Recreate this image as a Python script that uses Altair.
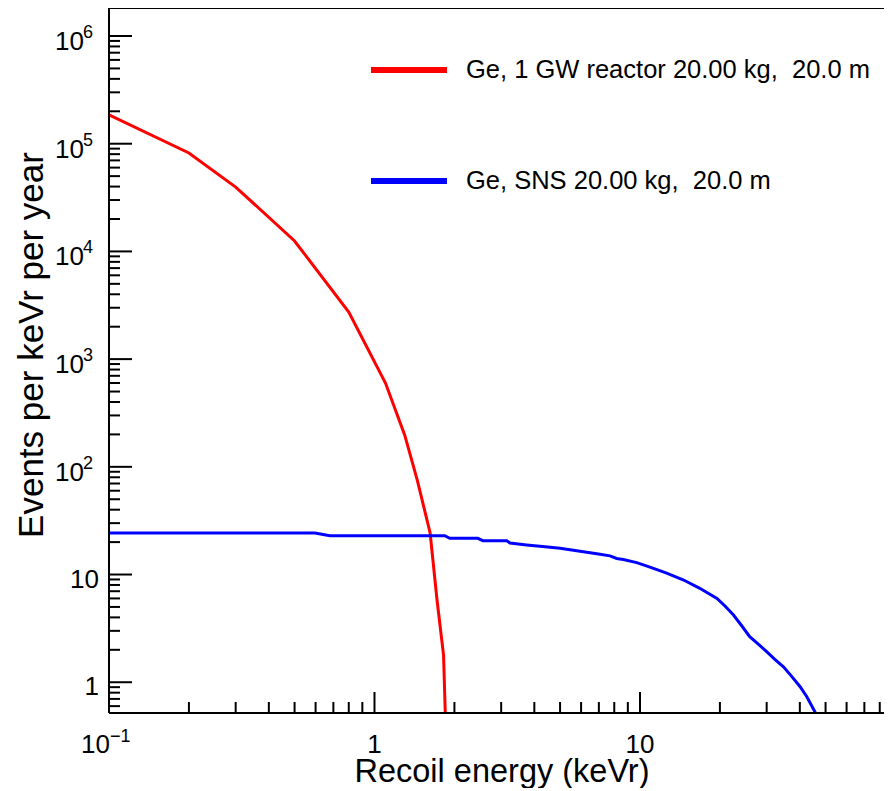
import altair as alt
import pandas as pd

# ---- data ----
red_x = [0.1, 0.2, 0.3, 0.5, 0.8, 1.1, 1.3, 1.45, 1.62, 1.72, 1.82, 1.86]
red_y = [1.85e5, 8.2e4, 3.96e4, 1.25e4, 2.74e3, 600, 197, 75, 24.3, 5.8, 1.79, 0.3]

blue_x = [0.1, 0.597, 0.679, 1.84, 1.92, 2.45, 2.56, 3.15, 3.24, 3.74, 4.39, 5.0,
          5.53, 6.3, 6.97, 7.71, 8.17, 8.65, 9.72, 10.9, 12.6, 14.6, 16.8, 17.8,
          19.5, 20.9, 22.5, 24.2, 25.9, 27.9, 30.0, 32.2, 34.7, 37.2, 40.1, 42.5,
          45.6, 46.8]
blue_y = [24.3, 24.3, 22.9, 22.9, 21.7, 21.7, 20.6, 20.6, 19.6, 18.8, 18.1, 17.5,
          16.9, 16.1, 15.5, 14.9, 14.1, 13.8, 12.9, 11.7, 10.3, 8.89, 7.45, 6.84,
          6.01, 5.10, 4.21, 3.33, 2.65, 2.26, 1.92, 1.63, 1.39, 1.14, 0.908, 0.734,
          0.532, 0.45]

series_names = ["Ge, 1 GW reactor 20.00 kg,\u00a0 20.0 m", "Ge, SNS 20.00 kg,\u00a0 20.0 m"]
series_colors = ["#ff0000", "#0000ff"]

x_major_ticks = [0.1, 1, 10]
x_minor_ticks = [0.2, 0.3, 0.4, 0.5, 0.6, 0.7, 0.8, 0.9,
                 2, 3, 4, 5, 6, 7, 8, 9,
                 20, 30, 40, 50, 60, 70, 80]
y_major_ticks = [1, 10, 100, 1e3, 1e4, 1e5, 1e6]
y_minor_ticks = [0.6, 0.7, 0.8, 0.9] + [m * 10 ** e for e in range(0, 6) for m in range(2, 10)]

y_exp_label_vals = [100, 1e3, 1e4, 1e5, 1e6]
y_exp_label_exps = ["2", "3", "4", "5", "6"]
y_plain_label_vals = [1, 10]
y_plain_label_text = ["1", "10"]

x_exp_label_vals = [0.1]
x_exp_label_exps = ["\u22121"]
x_plain_label_vals = [1, 10]
x_plain_label_text = ["1", "10"]

x_title = "Recoil energy (keVr)"
y_title = "Events per keVr per year"

# ---- layout ----
W, H = 775, 705
FONT = "Liberation Sans"
xscale = alt.Scale(type="log", domain=[0.1, 83.0], nice=False, zero=False)
yscale = alt.Scale(type="log", domain=[0.518, 1.82e6], nice=False, zero=False)

curves = pd.DataFrame({
    "x": red_x + blue_x,
    "y": red_y + blue_y,
    "s": [series_names[0]] * len(red_x) + [series_names[1]] * len(blue_x),
})

lines = alt.Chart(curves).mark_line(strokeWidth=3, clip=True).encode(
    x=alt.X("x:Q", scale=xscale, axis=None),
    y=alt.Y("y:Q", scale=yscale, axis=None),
    color=alt.Color("s:N", scale=alt.Scale(domain=series_names, range=series_colors), legend=None),
    detail="s:N",
)

# frame (top, left, bottom)
frame_top = alt.Chart().mark_rule(color="black", strokeWidth=2).encode(
    x=alt.value(0), x2=alt.value(W), y=alt.value(0))
frame_left = alt.Chart().mark_rule(color="black", strokeWidth=2).encode(
    x=alt.value(0), y=alt.value(0), y2=alt.value(H))
frame_bottom = alt.Chart().mark_rule(color="black", strokeWidth=2).encode(
    x=alt.value(0), x2=alt.value(W), y=alt.value(H))

def xticks(vals, length):
    return alt.Chart(pd.DataFrame({"v": vals})).mark_rule(color="black", strokeWidth=2).encode(
        x=alt.X("v:Q", scale=xscale, axis=None),
        y=alt.value(H), y2=alt.value(H - length))

def yticks(vals, length):
    return alt.Chart(pd.DataFrame({"v": vals})).mark_rule(color="black", strokeWidth=2).encode(
        y=alt.Y("v:Q", scale=yscale, axis=None),
        x=alt.value(0), x2=alt.value(length))

# y tick labels
y_exp_df = pd.DataFrame({"v": y_exp_label_vals, "e": y_exp_label_exps, "b": ["10"] * len(y_exp_label_vals)})
y_base = alt.Chart(y_exp_df).mark_text(font=FONT, fontSize=26, align="right", baseline="alphabetic", dy=14).encode(
    y=alt.Y("v:Q", scale=yscale, axis=None), x=alt.value(-25), text="b:N")
y_exp = alt.Chart(y_exp_df).mark_text(font=FONT, fontSize=18, align="left", baseline="alphabetic", dy=2).encode(
    y=alt.Y("v:Q", scale=yscale, axis=None), x=alt.value(-26), text="e:N")
y_plain = alt.Chart(pd.DataFrame({"v": y_plain_label_vals, "t": y_plain_label_text})).mark_text(
    font=FONT, fontSize=26, align="right", baseline="alphabetic", dy=13).encode(
    y=alt.Y("v:Q", scale=yscale, axis=None), x=alt.value(-10), text="t:N")

# x tick labels
x_exp_df = pd.DataFrame({"v": x_exp_label_vals, "e": x_exp_label_exps, "b": ["10"] * len(x_exp_label_vals)})
x_base = alt.Chart(x_exp_df).mark_text(font=FONT, fontSize=26, align="right", baseline="alphabetic", dx=1).encode(
    x=alt.X("v:Q", scale=xscale, axis=None), y=alt.value(745), text="b:N")
x_exp = alt.Chart(x_exp_df).mark_text(font=FONT, fontSize=18, align="left", baseline="alphabetic", dx=1).encode(
    x=alt.X("v:Q", scale=xscale, axis=None), y=alt.value(734), text="e:N")
x_plain = alt.Chart(pd.DataFrame({"v": x_plain_label_vals, "t": x_plain_label_text})).mark_text(
    font=FONT, fontSize=26, align="center", baseline="alphabetic").encode(
    x=alt.X("v:Q", scale=xscale, axis=None), y=alt.value(745), text="t:N")

# axis titles
xt = alt.Chart(pd.DataFrame({"t": [x_title]})).mark_text(
    font=FONT, fontSize=32.5, align="center", baseline="alphabetic").encode(
    x=alt.value(393), y=alt.value(774), text="t:N")
yt = alt.Chart(pd.DataFrame({"t": [y_title]})).mark_text(
    font=FONT, fontSize=35, align="center", baseline="alphabetic", angle=270).encode(
    x=alt.value(-66), y=alt.value(337), text="t:N")

# legend
leg_df = pd.DataFrame({"s": series_names, "ly": [62, 173], "ty": [70, 181]})
leg_lines = alt.Chart(leg_df).mark_rule(strokeWidth=6).encode(
    x=alt.value(262), x2=alt.value(338),
    y=alt.Y("ly:Q", scale=None, axis=None),
    color=alt.Color("s:N", scale=alt.Scale(domain=series_names, range=series_colors), legend=None))
leg_text = alt.Chart(leg_df).mark_text(font=FONT, fontSize=25.5, align="left", baseline="alphabetic", color="black").encode(
    x=alt.value(357), y=alt.Y("ty:Q", scale=None, axis=None), text="s:N")

chart = alt.layer(
    lines,
    xticks(x_major_ticks, 21), xticks(x_minor_ticks, 11),
    yticks(y_major_ticks, 23), yticks(y_minor_ticks, 11),
    frame_top, frame_left, frame_bottom,
    y_base, y_exp, y_plain, x_base, x_exp, x_plain,
    xt, yt, leg_lines, leg_text,
).properties(
    width=W, height=H,
    padding={"left": 101, "top": 0, "right": 0, "bottom": 75},
    autosize=alt.AutoSizeParams(type="none"),
).configure_view(stroke=None).resolve_scale(color="shared")

chart.save("out.html", embed_options={"renderer": "svg", "actions": False})
